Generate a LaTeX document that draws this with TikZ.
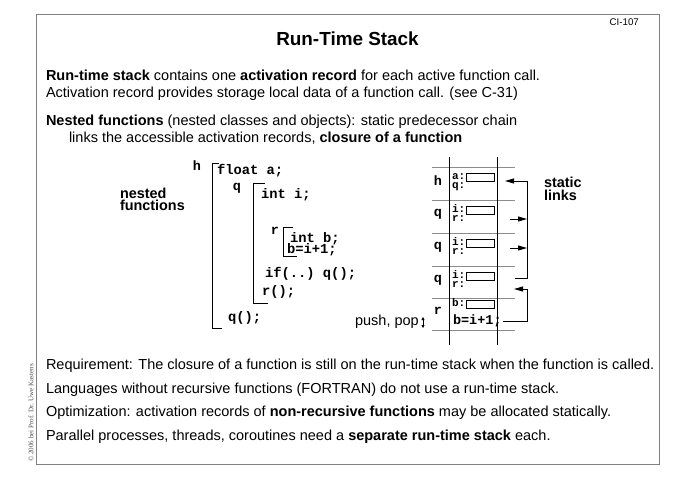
\documentclass[tikz,border=0pt]{standalone}
\usepackage{fontspec}
\setmainfont{Liberation Sans}
\setmonofont{Liberation Mono}
\newfontfamily\crfont{Liberation Serif}
\usetikzlibrary{arrows.meta}
\tikzset{
  txt/.style={inner sep=0pt, outer sep=0pt, anchor=base west, font=\fontsize{14.5}{17}\selectfont},
  code/.style={inner sep=0pt, outer sep=0pt, anchor=base west, font=\ttfamily\bfseries\fontsize{13.8}{14}\selectfont},
  lbl/.style={inner sep=0pt, outer sep=0pt, font=\ttfamily\bfseries\fontsize{13.5}{14}\selectfont},
  fld/.style={inner sep=0pt, outer sep=0pt, anchor=base west, font=\ttfamily\bfseries\fontsize{11}{11}\selectfont},
  sidelbl/.style={inner sep=0pt, outer sep=0pt, anchor=base west, font=\bfseries\fontsize{14.4}{12}\selectfont},
  slotbox/.style={draw=black, line width=0.8pt},
  hsep/.style={draw=black!45, line width=1pt},
  vsep/.style={draw=black, line width=0.9pt},
  brk/.style={draw=black, line width=0.9pt},
  link/.style={line width=0.9pt, -{Triangle[length=9pt,width=5pt]}},
}
\begin{document}
\begin{tikzpicture}[x=1pt,y=-1pt]
\useasboundingbox (0,0) rectangle (678,480);
% frame
\draw[black!50, line width=1pt] (36,14) rectangle (659,464);
\node[inner sep=0pt, anchor=base east, font=\fontsize{9.7}{11}\selectfont] (slide) at (639,25.5) {CI-107};
\node[inner sep=0pt, anchor=base, font=\bfseries\fontsize{18.9}{22}\selectfont] (title) at (347.5,45.5) {Run-Time Stack};
\node[rotate=90, inner sep=0pt, text=black!70, font=\crfont\fontsize{7}{8}\selectfont] (copy) at (31,413) {© 2006 bei Prof. Dr. Uwe Kastens};

% top text
\node[txt] (t1) at (46,80) {\textbf{Run-time stack} contains one \textbf{activation record} for each active function call.};
\node[txt] (t2) at (46,97) {Activation record provides storage local data of a function call. (see C-31)};
\node[txt] (t3) at (46,125) {\textbf{Nested functions} (nested classes and objects): static predecessor chain};
\node[txt] (t4) at (69,142) {links the accessible activation records, \textbf{closure of a function}};

% bottom text
\node[txt] (b1) at (46,369.5) {Requirement: The closure of a function is still on the run-time stack when the function is called.};
\node[txt] (b2) at (46,393) {Languages without recursive functions (FORTRAN) do not use a run-time stack.};
\node[txt] (b3) at (46,416.5) {Optimization: activation records of \textbf{non-recursive functions} may be allocated statically.};
\node[txt] (b4) at (46,440) {Parallel processes, threads, coroutines need a \textbf{separate run-time stack} each.};

% nested functions code
\node[sidelbl] (nf1) at (120,198) {nested};
\node[sidelbl] (nf2) at (120,210.5) {functions};
\node[lbl] (ch) at (197,166) {h};
\node[lbl] (cq) at (237,188) {q};
\node[lbl] (cr) at (275,231) {r};
\draw[brk] (219,163) -- (212,163) -- (212,328) -- (222,328);
\draw[brk] (265,183) -- (253,183) -- (253,303) -- (268,303);
\draw[brk] (293,227) -- (283,227) -- (283,256) -- (297,256);
\node[code] (c1) at (217,174) {float a;};
\node[code] (c2) at (261,198) {int i;};
\node[code] (c3) at (290,242) {int b;};
\node[code] (c4) at (287,253.5) {b=i+1;};
\node[code] (c5) at (265,277) {if(..) q();};
\node[code] (c6) at (262,295) {r();};
\node[code] (c7) at (228,321) {q();};

% stack
\foreach \yy in {167,200,233,266,298,330} \draw[hsep] (432,\yy) -- (515,\yy);
\draw[vsep] (449,157) -- (449,345);
\draw[vsep] (497,157) -- (497,345);

\node[lbl] (sh) at (438,181) {h};
\node[fld] (fa) at (452,179.5) {a:};
\node[fld] (fq) at (452,188.5) {q:};
\draw[slotbox] (466,173) rectangle (494,181);

\node[lbl] (sq1) at (438,214) {q};
\node[fld] (fi1) at (452,212.5) {i:};
\node[fld] (fr1) at (452,221.5) {r:};
\draw[slotbox] (466,206) rectangle (494,214);

\node[lbl] (sq2) at (438,247) {q};
\node[fld] (fi2) at (452,245.5) {i:};
\node[fld] (fr2) at (452,254.5) {r:};
\draw[slotbox] (466,239) rectangle (494,247);

\node[lbl] (sq3) at (438,280) {q};
\node[fld] (fi3) at (452,278.5) {i:};
\node[fld] (fr3) at (452,287.5) {r:};
\draw[slotbox] (466,272) rectangle (494,280);

\node[lbl] (sr) at (438,311) {r};
\node[fld] (fb) at (452,306.5) {b:};
\draw[slotbox] (466,300) rectangle (494,308);
\node[code, font=\ttfamily\bfseries\fontsize{13.5}{14}\selectfont] (sbi) at (453,324.5) {b=i+1;};

% links
\coordinate (hA) at (505,181);
\coordinate (k1) at (527,181);
\coordinate (k2) at (527,278);
\coordinate (q3e) at (515,278);
\draw[link] (q3e) -- (k2) -- (k1) -- (hA);
\coordinate (q1s) at (510,219);
\coordinate (q1e) at (527,219);
\draw[link] (q1s) -- (q1e);
\coordinate (q2s) at (510,248);
\coordinate (q2e) at (527,248);
\draw[link] (q2s) -- (q2e);
\coordinate (rs) at (503,321);
\coordinate (m1) at (527,321);
\coordinate (m2) at (527,289);
\coordinate (q3A) at (514,289);
\draw[link] (rs) -- (m1) -- (m2) -- (q3A);

\node[sidelbl] (st1) at (544,187.5) {static};
\node[sidelbl] (st2) at (544,200) {links};

% push pop
\node[inner sep=0pt, anchor=base east, font=\fontsize{14.5}{17}\selectfont] (pp) at (419,325) {push, pop};
\coordinate (pa) at (423,317);
\coordinate (pb) at (423,328);
\draw[line width=0.6pt, {Triangle[length=3pt,width=3pt]}-{Triangle[length=3pt,width=3pt]}] (pa) -- (pb);
\end{tikzpicture}
\end{document}
